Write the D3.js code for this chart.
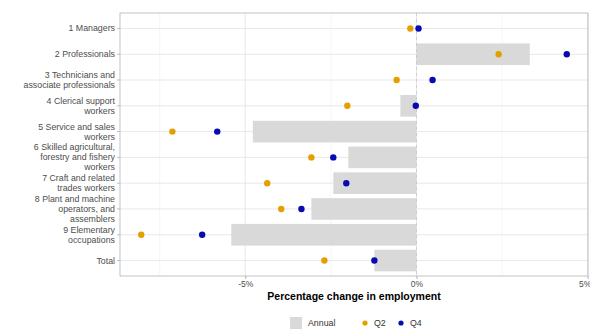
<!DOCTYPE html>
<html><head><meta charset="utf-8">
<script src="https://cdn.jsdelivr.net/npm/d3@7/dist/d3.min.js"></script>
<style>body{margin:0;background:#fff}svg{display:block;font-family:"Liberation Sans",Arial,sans-serif}</style>
</head><body><svg id="c" width="590" height="331"></svg>
<script>
const categories = ["1 Managers","2 Professionals","3 Technicians and\nassociate professionals","4 Clerical support\nworkers","5 Service and sales\nworkers","6 Skilled agricultural,\nforestry and fishery\nworkers","7 Craft and related\ntrades workers","8 Plant and machine\noperators, and\nassemblers","9 Elementary\noccupations","Total"];
const annual = [0.0, 3.31, 0.0, -0.47, -4.78, -1.99, -2.43, -3.07, -5.41, -1.23];
const q2 = [-0.18, 2.40, -0.58, -2.02, -7.13, -3.07, -4.36, -3.95, -8.04, -2.69];
const q4 = [0.06, 4.39, 0.47, -0.02, -5.82, -2.43, -2.05, -3.36, -6.26, -1.23];
const xTicks = [-5, 0, 5];
const xMinor = [-7.5, -2.5, 2.5];
const legendLabels = ["Annual", "Q2", "Q4"];

const svg = d3.select("#c");
const L = 120, R = 588, T = 13, B = 276;
const x = d3.scaleLinear().domain([-8.66, 5.01]).range([L, R]);
const y = d3.scalePoint().domain(categories).range([T, B]).padding(0.6);
const step = y.step();
const barH = step * 0.84;
const cQ2 = "#E69F00", cQ4 = "#0A0AB4", cBar = "#d9d9d9";

const g = svg.append("g");
g.selectAll(".mg").data(xMinor).join("line")
  .attr("x1", d => x(d)).attr("x2", d => x(d)).attr("y1", T).attr("y2", B)
  .attr("stroke", "#eeeeee").attr("stroke-width", 0.5);
g.selectAll(".Mg").data(xTicks).join("line")
  .attr("x1", d => x(d)).attr("x2", d => x(d)).attr("y1", T).attr("y2", B)
  .attr("stroke", "#e2e2e2").attr("stroke-width", 0.8);
g.selectAll(".hg").data(categories).join("line")
  .attr("x1", L).attr("x2", R).attr("y1", d => y(d)).attr("y2", d => y(d))
  .attr("stroke", "#e2e2e2").attr("stroke-width", 0.8);

g.selectAll(".bar").data(categories).join("rect")
  .attr("x", (d, i) => x(Math.min(0, annual[i])))
  .attr("width", (d, i) => Math.abs(x(annual[i]) - x(0)))
  .attr("y", d => y(d) - barH / 2).attr("height", barH)
  .attr("fill", cBar);

g.append("line").attr("x1", x(0)).attr("x2", x(0)).attr("y1", T).attr("y2", B)
  .attr("stroke", "#b8b8dc").attr("stroke-width", 0.6).attr("stroke-dasharray", "3,3");

g.selectAll(".q2").data(categories).join("circle")
  .attr("cx", (d, i) => x(q2[i])).attr("cy", d => y(d)).attr("r", 3.2).attr("fill", cQ2);
g.selectAll(".q4").data(categories).join("circle")
  .attr("cx", (d, i) => x(q4[i])).attr("cy", d => y(d)).attr("r", 3.2).attr("fill", cQ4);

svg.append("rect").attr("x", L).attr("y", T).attr("width", R - L).attr("height", B - T)
  .attr("fill", "none").attr("stroke", "#b3b3b3").attr("stroke-width", 0.8);

const xa = svg.append("g").attr("transform", `translate(0,${B})`)
  .call(d3.axisBottom(x).tickValues(xTicks).tickFormat(d => d + "%").tickSize(3).tickPadding(2));
xa.select(".domain").remove();
xa.selectAll("line").attr("stroke", "#b3b3b3");
xa.selectAll("text").attr("fill", "#4d4d4d").attr("font-size", "8.5px").attr("font-family", "Liberation Sans, Arial, sans-serif")
  .attr("dx", d => d === 5 ? -3 : 0);

svg.selectAll(".yt").data(categories).join("line")
  .attr("x1", L - 3).attr("x2", L).attr("y1", d => y(d)).attr("y2", d => y(d))
  .attr("stroke", "#b3b3b3").attr("stroke-width", 0.8);
const yl = svg.selectAll(".yl").data(categories).join("text")
  .attr("text-anchor", "end").attr("fill", "#4d4d4d").attr("font-size", "8.8px");
yl.each(function(d) {
  const lines = d.split("\n");
  const lh = 10;
  const t = d3.select(this);
  lines.forEach((ln, k) => {
    t.append("tspan").attr("x", L - 5)
      .attr("y", y(d) + (k - (lines.length - 1) / 2) * lh + 3)
      .text(ln);
  });
});

svg.append("text").attr("x", (L + R) / 2).attr("y", 300).attr("text-anchor", "middle")
  .attr("font-size", "10.5px").attr("font-weight", "bold").attr("fill", "#000")
  .text("Percentage change in employment");

const ly = 323;
const lg = svg.append("g");
lg.append("rect").attr("x", 290).attr("y", ly - 6).attr("width", 12).attr("height", 12).attr("fill", cBar);
lg.append("text").attr("x", 308).attr("y", ly + 3).attr("font-size", "8.8px").attr("fill", "#333").text(legendLabels[0]);
lg.append("circle").attr("cx", 365).attr("cy", ly).attr("r", 2.6).attr("fill", cQ2);
lg.append("text").attr("x", 374).attr("y", ly + 3).attr("font-size", "8.8px").attr("fill", "#333").text(legendLabels[1]);
lg.append("circle").attr("cx", 401).attr("cy", ly).attr("r", 2.6).attr("fill", cQ4);
lg.append("text").attr("x", 410).attr("y", ly + 3).attr("font-size", "8.8px").attr("fill", "#333").text(legendLabels[2]);
</script></body></html>
